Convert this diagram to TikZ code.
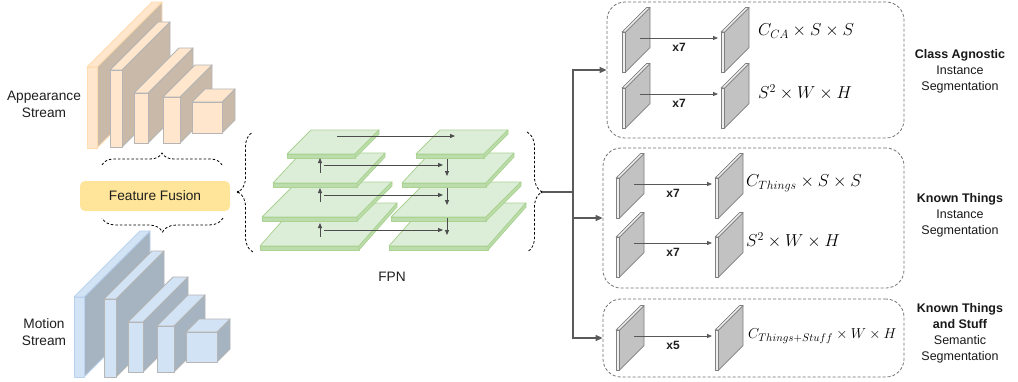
\documentclass[tikz,border=0pt]{standalone}
\usepackage{fontspec}
\setmainfont{Liberation Sans}
\usetikzlibrary{arrows.meta,decorations.pathreplacing}

\definecolor{apFront}{HTML}{FFE6CC}
\definecolor{apSide}{HTML}{C9B9A8}
\definecolor{apEdgeA}{HTML}{FFDCB0}
\definecolor{moFront}{HTML}{D2E3F5}
\definecolor{moSide}{HTML}{A6B3C1}
\definecolor{moEdgeA}{HTML}{BAD2EF}
\definecolor{slabEdge}{HTML}{B5B5B5}
\definecolor{fuseFill}{HTML}{FFE599}
\definecolor{fpnTop}{HTML}{DCEDD8}
\definecolor{fpnSide}{HTML}{BCDDAB}
\definecolor{fpnEdge}{HTML}{ABD394}
\definecolor{headFront}{HTML}{EFEFEF}
\definecolor{headSide}{HTML}{C2C2C2}
\definecolor{headEdge}{HTML}{7F7F7F}
\definecolor{connGray}{HTML}{5A5A5A}

% 3D slab: x, top y, front width, height, depth, front colour, side colour, edge colour
\newcommand\slab[8]{%
  \filldraw[fill=#7, draw=#8, line width=0.9pt, line join=round]
    (#1+#3,#2) -- ++(#5,-#5) -- ++(0,#4) -- ++(-#5,#5) -- cycle;
  \filldraw[fill=#6, draw=#8, line width=0.9pt, line join=round]
    (#1,#2) -- ++(#3,0) -- ++(#5,-#5) -- ++(-#3,0) -- cycle;
  \filldraw[fill=#6, draw=#8, line width=0.9pt, line join=round]
    (#1,#2) rectangle ++(#3,#4);
}

% FPN level: x, y of front-left corner, width, depth dx, depth dy
\newcommand\fpnplate[5]{%
  \filldraw[fill=fpnTop, draw=fpnEdge, line width=0.8pt, line join=round]
    (#1,#2) -- ++(#3,0) -- ++(#4,-#5) -- ++(-#3,0) -- cycle;
  \filldraw[fill=fpnSide, draw=fpnEdge, line width=0.8pt, line join=round]
    (#1,#2) -- ++(#3,0) -- ++(0,4) -- ++(-#3,0) -- cycle;
  \filldraw[fill=fpnSide, draw=fpnEdge, line width=0.8pt, line join=round]
    (#1+#3,#2) -- ++(#4,-#5) -- ++(0,4) -- ++(-#4,#5) -- cycle;
}

% feature map of a head: name, x, top y
\newcommand\headplate[3]{%
  \filldraw[fill=headSide, draw=headEdge, line width=0.7pt, line join=round]
    (#2+3.5,#3) -- ++(24.5,-24.5) -- ++(0,40) -- ++(-24.5,24.5) -- cycle;
  \filldraw[fill=headFront, draw=headEdge, line width=0.7pt, line join=round]
    (#2,#3) -- ++(3.5,0) -- ++(24.5,-24.5) -- ++(-3.5,0) -- cycle;
  \filldraw[fill=headFront, draw=headEdge, line width=0.7pt]
    (#2,#3) rectangle ++(3.5,40);
  \coordinate (#1) at (#2+18,#3+6);
  \coordinate (#1-in) at (#2-3,#3+6);
}

\begin{document}
\begin{tikzpicture}[x=1pt,y=-1pt,
  lbl/.style={font=\fontsize{13.7}{17}\selectfont, align=center, text=black!88},
  headlbl/.style={font=\fontsize{12.5}{16}\selectfont, align=center, text=black!90},
  mathlbl/.style={font=\fontsize{17}{20}\selectfont, anchor=west, inner sep=0pt},
  rep/.style={font=\fontsize{12}{14}\selectfont\bfseries, text=black!88},
  headbox/.style={draw=black!55, dash pattern=on 3pt off 2pt, rounded corners=18pt, line width=0.8pt, inner sep=0pt},
  curly/.style={decorate, decoration={brace, amplitude=#1}, draw=black, line width=0.8pt, dash pattern=on 2.5pt off 2pt},
  conn/.style={draw=connGray, line width=1.3pt},
  tip/.style={-{Triangle[length=7pt,width=6pt]}},
  farr/.style={draw=black!70, line width=0.8pt, -{Triangle[length=5pt,width=4pt]}},
  harr/.style={draw=black!65, line width=0.8pt, -{Triangle[length=5pt,width=4pt]}},
]
\useasboundingbox (0,0) rectangle (1018,381);
\fill[white] (0,0) rectangle (1018,381);

% appearance stream
\slab{87}{67}{10}{81}{65}{apFront}{apSide}{apEdgeA}
\slab{110}{70}{12}{77}{48}{apFront}{apSide}{slabEdge}
\slab{134}{93}{14}{50}{45}{apFront}{apSide}{slabEdge}
\slab{163}{97}{17}{46}{32}{apFront}{apSide}{slabEdge}
\slab{192}{102}{30}{31}{13}{apFront}{apSide}{slabEdge}
\node[lbl] (aplbl) at (44,104) {Appearance\\Stream};

% motion stream
\slab{74}{297}{10}{80}{66}{moFront}{moSide}{moEdgeA}
\slab{104}{299}{12}{78}{48}{moFront}{moSide}{slabEdge}
\slab{128}{322}{15}{50}{45}{moFront}{moSide}{slabEdge}
\slab{157}{326}{17}{46}{31}{moFront}{moSide}{slabEdge}
\slab{186}{332}{31}{30}{13}{moFront}{moSide}{slabEdge}
\node[lbl] (molbl) at (44,332) {Motion\\Stream};

% fusion
\node[lbl, fill=fuseFill, rounded corners=5pt, minimum width=150pt, minimum height=30pt] (fuse) at (155,196) {Feature Fusion};
\coordinate (bu1) at (102,165); \coordinate (bu2) at (222,165);
\draw[curly=12] (bu1) -- (bu2);
\coordinate (bd1) at (223,218); \coordinate (bd2) at (102,218);
\draw[curly=14] (bd1) -- (bd2);

% FPN, bottom-up pathway on the left, top-down on the right
\fpnplate{260}{246}{99}{38}{43}
\fpnplate{262}{217}{95}{35}{35}
\fpnplate{273}{183}{84}{28}{30}
\fpnplate{287}{154}{68}{24}{24}
\fpnplate{389}{246}{99}{38}{43}
\fpnplate{391}{217}{95}{35}{35}
\fpnplate{402}{183}{84}{28}{30}
\fpnplate{416}{154}{68}{24}{24}

\coordinate (t0a) at (337,136); \coordinate (t0b) at (455,136);
\coordinate (h1a) at (324,165); \coordinate (h1b) at (443,165);
\coordinate (h2a) at (324,195); \coordinate (h2b) at (443,195);
\coordinate (h3a) at (324,230); \coordinate (h3b) at (443,230);
\coordinate (u1a) at (320,173); \coordinate (u1b) at (320,158);
\coordinate (u2a) at (320,202); \coordinate (u2b) at (320,188);
\coordinate (u3a) at (320,237); \coordinate (u3b) at (320,223);
\coordinate (d1a) at (447,159); \coordinate (d1b) at (447,176);
\coordinate (d2a) at (447,188); \coordinate (d2b) at (447,205);
\coordinate (d3a) at (447,218); \coordinate (d3b) at (447,235);
\foreach \a in {t0,h1,h2,h3,u1,u2,u3,d1,d2,d3}
  \draw[farr] (\a a) -- (\a b);

\node[lbl] (fpnlbl) at (392,277) {FPN};

\coordinate (bl1) at (253,252); \coordinate (bl2) at (253,132);
\draw[curly=15] (bl1) -- (bl2);
\coordinate (br1) at (527,132); \coordinate (br2) at (527,252);
\draw[curly=15] (br1) -- (br2);
\fill (238,192) circle (1.3pt);
\coordinate (fpnout) at (542,192);
\fill (fpnout) circle (1.3pt);

% heads
\node[headbox, minimum width=297pt, minimum height=136pt] (b1) at (755.5,70) {};
\node[headbox, minimum width=301pt, minimum height=140pt] (b2) at (753.5,218) {};
\node[headbox, minimum width=301pt, minimum height=78pt] (b3) at (753.5,338) {};

\coordinate (split) at (573,192);
\draw[conn] (fpnout) -- (split);
\draw[conn, tip] (split) |- (b1.west);
\draw[conn, tip] (split) |- (b2.west);
\draw[conn, tip] (split) |- (b3.west);

% class agnostic head
\headplate{a1}{622}{32}
\headplate{a2}{721}{32}
\headplate{a3}{622}{88}
\headplate{a4}{721}{88}
\draw[harr] (a1) -- node[rep, below=1.5pt] {x7} (a2-in);
\draw[harr] (a3) -- node[rep, below=1.5pt] {x7} (a4-in);
\node[mathlbl] (ma1) at (758,31) {$C_{CA}\times S\times S$};
\node[mathlbl] (ma2) at (758,92) {$S^2\times W\times H$};

% known things head
\headplate{k1}{616}{178}
\headplate{k2}{715}{178}
\headplate{k3}{616}{237}
\headplate{k4}{715}{237}
\draw[harr] (k1) -- node[rep, below=1.5pt] {x7} (k2-in);
\draw[harr] (k3) -- node[rep, below=1.5pt] {x7} (k4-in);
\node[mathlbl] (mk1) at (746,183) {$C_{Things}\times S\times S$};
\node[mathlbl] (mk2) at (746,240) {$S^2\times W\times H$};

% semantic head
\headplate{s1}{616}{330}
\headplate{s2}{715}{330}
\draw[harr] (s1) -- node[rep, below=1.5pt] {x5} (s2-in);
\node[mathlbl, font=\fontsize{15.3}{18}\selectfont] (ms1) at (748,336) {$C_{Things+Stuff}\times W\times H$};

% task names
\node[headlbl] (n1) at (960,71) {\textbf{Class Agnostic}\\Instance\\Segmentation};
\node[headlbl] (n2) at (960,215) {\textbf{Known Things}\\Instance\\Segmentation};
\node[headlbl] (n3) at (960,333) {\textbf{Known Things}\\\textbf{and Stuff}\\Semantic\\Segmentation};
\end{tikzpicture}
\end{document}
